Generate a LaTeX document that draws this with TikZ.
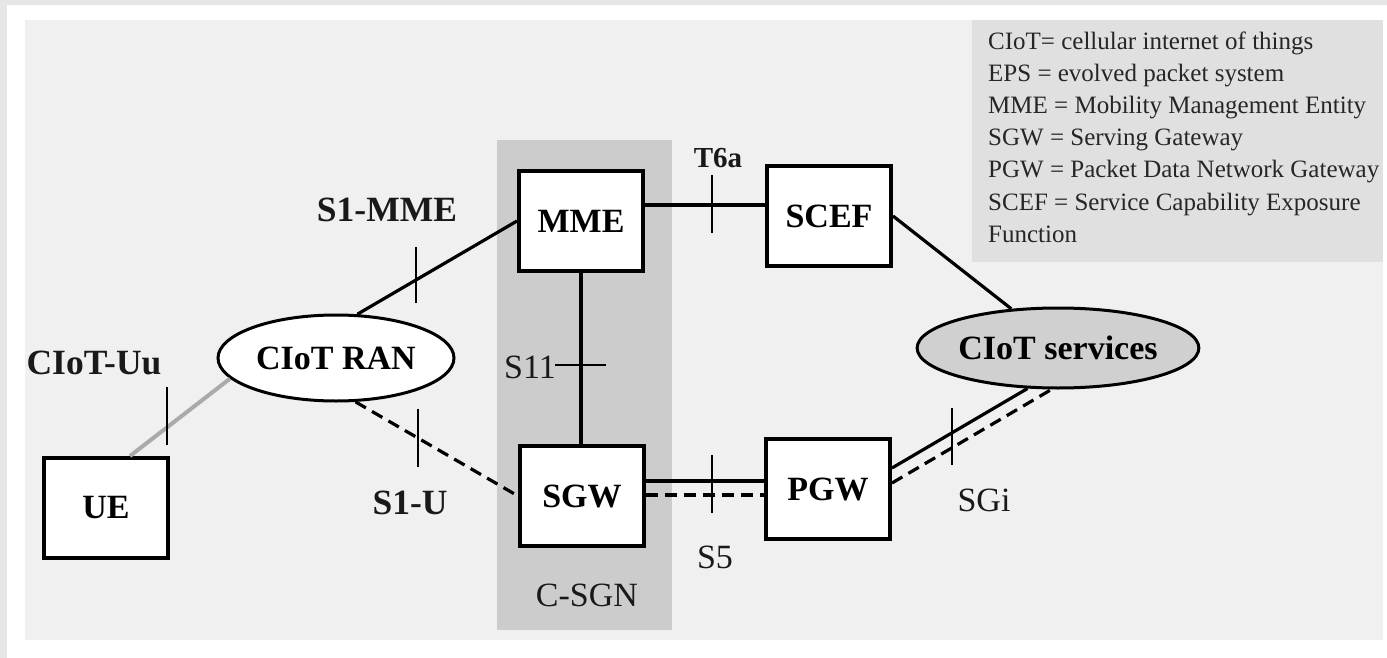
\documentclass[tikz,border=0pt]{standalone}
\usepackage{fontspec}
\setmainfont{Liberation Serif}
\usetikzlibrary{shapes.geometric}
\definecolor{outerbg}{HTML}{E6E6E6}
\definecolor{panelbg}{HTML}{F0F0F0}
\definecolor{legendbg}{HTML}{E0E0E0}
\definecolor{csgnbg}{HTML}{CCCCCC}
\definecolor{servbg}{HTML}{D0D0D0}
\definecolor{uuline}{HTML}{AAAAAA}
\definecolor{legtext}{HTML}{262626}
\tikzset{
  box/.style={draw=black, line width=4pt, fill=white, minimum width=124pt, minimum height=100pt, inner sep=0pt,
    font=\fontsize{34}{40}\selectfont\bfseries},
  oval/.style={ellipse, draw=black, line width=3pt, inner sep=0pt,
    font=\fontsize{34}{40}\selectfont\bfseries},
  lblb/.style={inner sep=0pt, font=\fontsize{35.5}{40}\selectfont\bfseries, text=black!90},
  lblr/.style={inner sep=0pt, font=\fontsize{34}{38}\selectfont, text=black!90},
  leg/.style={inner sep=0pt, anchor=base west, font=\fontsize{25}{30}\selectfont, text=legtext},
  link/.style={line width=3.2pt, black},
  dlink/.style={line width=3.2pt, black, dash pattern=on 12pt off 7pt},
  tickmark/.style={line width=2.5pt, black}
}
\begin{document}
\begin{tikzpicture}[x=1pt,y=-1pt]
\useasboundingbox (0,0) rectangle (1387,658);
% backgrounds
\fill[outerbg] (0,0) rectangle (1387,658);
\fill[white] (7,5) rectangle (1387,658);
\fill[panelbg] (25,20) rectangle (1383,640);
\fill[legendbg] (972,20) rectangle (1383,262);
\fill[csgnbg] (497,140) rectangle (672,630);

% legend
\node[leg] (l1) at (988,50)  {CIoT= cellular internet of things};
\node[leg] (l2) at (988,82)  {EPS = evolved packet system};
\node[leg] (l3) at (988,114) {MME = Mobility Management Entity};
\node[leg] (l4) at (988,146) {SGW = Serving Gateway};
\node[leg] (l5) at (988,178) {PGW = Packet Data Network Gateway};
\node[leg] (l6) at (988,210) {SCEF = Service Capability Exposure};
\node[leg] (l7) at (988,242) {Function};

% nodes
\node[box] (ue)   at (106,508) {UE};
\node[box] (mme)  at (581,221) {MME};
\node[box] (sgw)  at (582,496) {SGW};
\node[box] (scef) at (829,216) {SCEF};
\node[box] (pgw)  at (828,489) {PGW};
\node[oval, fill=white, minimum width=236pt, minimum height=86pt] (ran) at (336,358) {CIoT RAN};
\node[oval, fill=servbg, minimum width=280pt, minimum height=80pt] (serv) at (1058,348) {CIoT services};

% connectors
\draw[line width=4pt, uuline] ([xshift=24pt]ue.north) -- (ran.191);
\draw[link] (ran.64) -- (mme.west);
\draw[dlink] (ran.-66) -- (sgw.west);
\draw[link] (mme.south) -- (mme.south |- sgw.north);
\draw[link] ([yshift=16pt]mme.east) -- ([yshift=16pt]mme.east -| scef.west);
\draw[link] (scef.east) -- (serv.140);
\draw[link] ([yshift=15pt]sgw.east) -- ([yshift=15pt]sgw.east -| pgw.west);
\draw[dlink] ([yshift=1pt]sgw.east) -- ([yshift=1pt]sgw.east -| pgw.west);
\draw[link] ([yshift=21pt]pgw.east) -- (serv.233);
\draw[dlink] ([yshift=6pt]pgw.east) -- (serv.261);

% ticks
\coordinate (tuu) at (167,416);
\coordinate (ts1m) at (416,275);
\coordinate (ts1u) at (418,438);
\coordinate (ts11) at (580,365);
\coordinate (tt6a) at (712,204);
\coordinate (ts5) at (712,484);
\coordinate (tsgi) at (952,436);
\draw[tickmark] ([yshift=29pt]tuu) -- ([yshift=-29pt]tuu);
\draw[tickmark] ([yshift=28pt]ts1m) -- ([yshift=-28pt]ts1m);
\draw[tickmark] ([yshift=29pt]ts1u) -- ([yshift=-29pt]ts1u);
\draw[tickmark] ([xshift=-25pt]ts11) -- ([xshift=26pt]ts11);
\draw[tickmark] ([yshift=29pt]tt6a) -- ([yshift=-29pt]tt6a);
\draw[tickmark] ([yshift=29pt]ts5) -- ([yshift=-29pt]ts5);
\draw[tickmark] ([yshift=28pt]tsgi) -- ([yshift=-29pt]tsgi);

% labels
\node[lblb] (luu)  at (94,363)  {CIoT-Uu};
\node[lblb] (ls1m) at (387,210) {S1-MME};
\node[lblb] (ls1u) at (410,503) {S1-U};
\node[lblr, anchor=east] (ls11) at (556,367) {S11};
\node[lblb, font=\fontsize{29}{34}\selectfont\bfseries] (lt6a) at (718,158) {T6a};
\node[lblr] (ls5)  at (715,557) {S5};
\node[lblr] (lsgi) at (984,500) {SGi};
\node[lblr] (lcsgn) at (587,595) {C-SGN};
\end{tikzpicture}
\end{document}
